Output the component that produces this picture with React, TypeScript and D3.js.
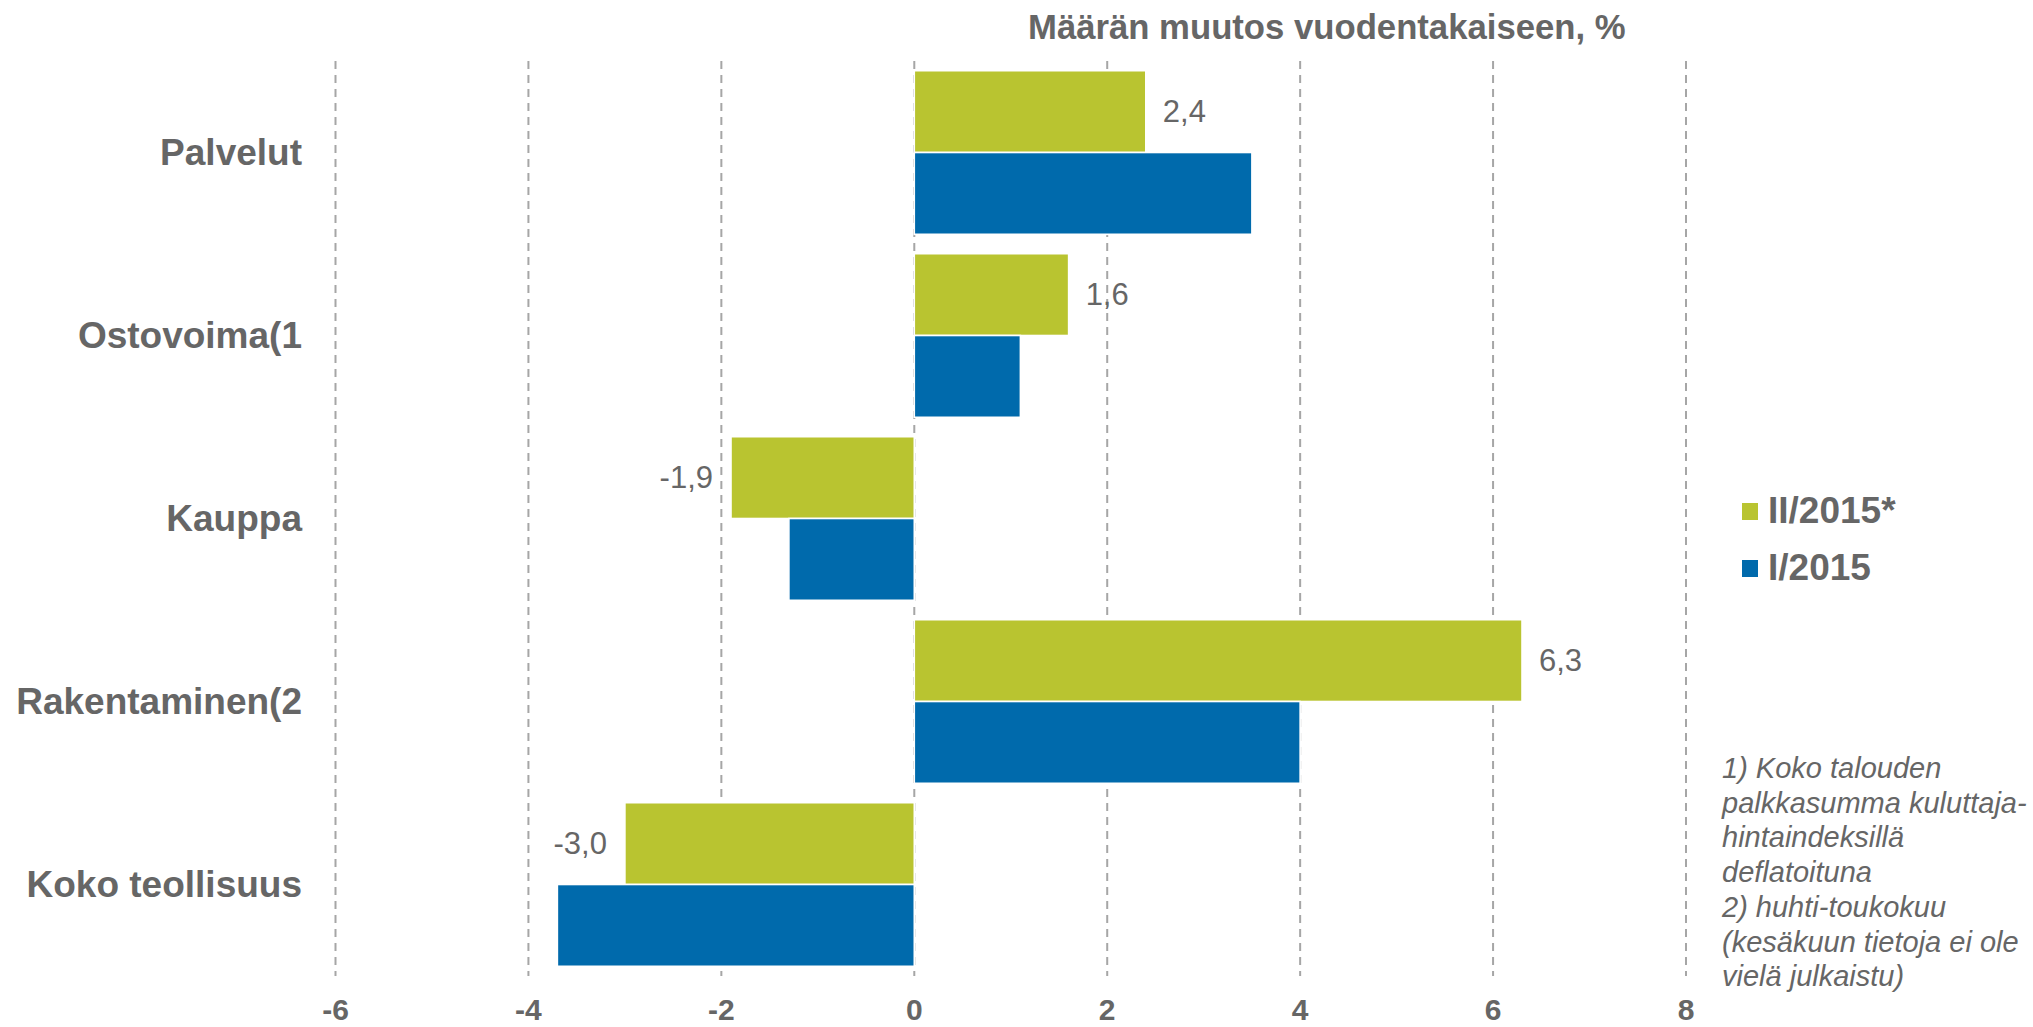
import React, { useEffect, useRef } from "react";
import * as d3 from "d3";

// Data
const categories = ["Palvelut", "Ostovoima(1", "Kauppa", "Rakentaminen(2", "Koko teollisuus"];
const seriesNames = ["II/2015*", "I/2015"];
const valuesQ2 = [2.4, 1.6, -1.9, 6.3, -3.0];
const valuesQ1 = [3.5, 1.1, -1.3, 4.0, -3.7];
const xTicks = [-6, -4, -2, 0, 2, 4, 6, 8];
const footnoteLines = [
  "1) Koko talouden",
  "palkkasumma kuluttaja-",
  "hintaindeksillä",
  "deflatoituna",
  "2) huhti-toukokuu",
  "(kesäkuun tietoja ei ole",
  "vielä julkaistu)",
];
const title = "Määrän muutos vuodentakaiseen, %";

const colors = ["#B9C430", "#006AAC"];
const textColor = "#666666";
const font = "'Liberation Sans', Arial, sans-serif";

// comma decimals and plain hyphen for negatives, like the original
const fmt = (v: number) => v.toFixed(1).replace(".", ",");

const App = () => {
  const ref = useRef<HTMLDivElement>(null);

  useEffect(() => {
    d3.select(ref.current).selectAll("*").remove();

    const width = 2033;
    const height = 1027;

    const svg = d3
      .select(ref.current)
      .append("svg")
      .attr("width", width)
      .attr("height", height)
      .style("position", "absolute")
      .style("left", 0)
      .style("top", 0)
      .style("font-family", font);

    svg.append("rect").attr("width", width).attr("height", height).attr("fill", "#fff");

    // Scales
    const x = d3.scaleLinear().domain([-6, 8]).range([335.5, 1686]);
    const y = d3
      .scaleBand()
      .domain(categories)
      .range([61, 976])
      .paddingInner(0.106)
      .paddingOuter(0.053);
    const ySub = d3.scaleBand().domain(seriesNames).range([0, y.bandwidth()]).padding(0);

    // Dashed gridlines
    svg
      .append("g")
      .selectAll("line")
      .data(xTicks)
      .enter()
      .append("line")
      .attr("x1", (d) => x(d))
      .attr("x2", (d) => x(d))
      .attr("y1", 61)
      .attr("y2", 976)
      .attr("stroke", "#A6A6A6")
      .attr("stroke-width", 2)
      .attr("stroke-dasharray", "8,6");

    // Bars
    const rows = categories.map((c, i) => ({ c, vals: [valuesQ2[i], valuesQ1[i]] }));
    const groups = svg
      .append("g")
      .selectAll("g")
      .data(rows)
      .enter()
      .append("g")
      .attr("transform", (d) => `translate(0, ${y(d.c)})`);

    groups
      .selectAll("rect")
      .data((d) => d.vals.map((v, j) => ({ v, s: seriesNames[j], j })))
      .enter()
      .append("rect")
      .attr("x", (d) => x(Math.min(0, d.v)))
      .attr("width", (d) => Math.abs(x(d.v) - x(0)))
      .attr("y", (d) => ySub(d.s)!)
      .attr("height", ySub.bandwidth())
      .attr("fill", (d) => colors[d.j])
      .attr("stroke", "#fff")
      .attr("stroke-width", 1.6);

    // Data labels (only for the first series)
    groups
      .append("text")
      .attr("x", (d) => x(d.vals[0]) + (d.vals[0] >= 0 ? 17 : -18))
      .attr("y", ySub(seriesNames[0])! + ySub.bandwidth() / 2)
      .attr("dy", "0.35em")
      .attr("text-anchor", (d) => (d.vals[0] >= 0 ? "start" : "end"))
      .attr("font-size", 31)
      .attr("fill", textColor)
      .text((d) => fmt(d.vals[0]));

    // Category labels
    svg
      .append("g")
      .selectAll("text")
      .data(categories)
      .enter()
      .append("text")
      .attr("x", 302)
      .attr("y", (d) => y(d)! + y.bandwidth() / 2)
      .attr("dy", "0.35em")
      .attr("text-anchor", "end")
      .attr("font-size", 37)
      .attr("font-weight", "bold")
      .attr("fill", textColor)
      .text((d) => d);

    // X tick labels
    svg
      .append("g")
      .selectAll("text")
      .data(xTicks)
      .enter()
      .append("text")
      .attr("x", (d) => x(d))
      .attr("y", 1009)
      .attr("dy", "0.35em")
      .attr("text-anchor", "middle")
      .attr("font-size", 30)
      .attr("font-weight", "bold")
      .attr("fill", textColor)
      .text((d) => String(d));

    // Title
    svg
      .append("text")
      .attr("x", 1028)
      .attr("y", 39)
      .attr("font-size", 34.7)
      .attr("font-weight", "bold")
      .attr("fill", textColor)
      .text(title);

    // Legend
    const legend = svg
      .append("g")
      .selectAll("g")
      .data(seriesNames)
      .enter()
      .append("g")
      .attr("transform", (d, i) => `translate(1742, ${503 + i * 57})`);
    legend
      .append("rect")
      .attr("width", 16)
      .attr("height", 17)
      .attr("fill", (d, i) => colors[i]);
    legend
      .append("text")
      .attr("x", 26)
      .attr("y", 20)
      .attr("font-size", 37)
      .attr("font-weight", "bold")
      .attr("fill", textColor)
      .text((d) => d);

    // Footnote
    svg
      .append("g")
      .selectAll("text")
      .data(footnoteLines)
      .enter()
      .append("text")
      .attr("x", 1722)
      .attr("y", (d, i) => 778 + i * 34.7)
      .attr("font-size", 29)
      .attr("font-style", "italic")
      .attr("fill", textColor)
      .text((d) => d);
  }, []);

  return <div ref={ref}></div>;
};

export default App;
